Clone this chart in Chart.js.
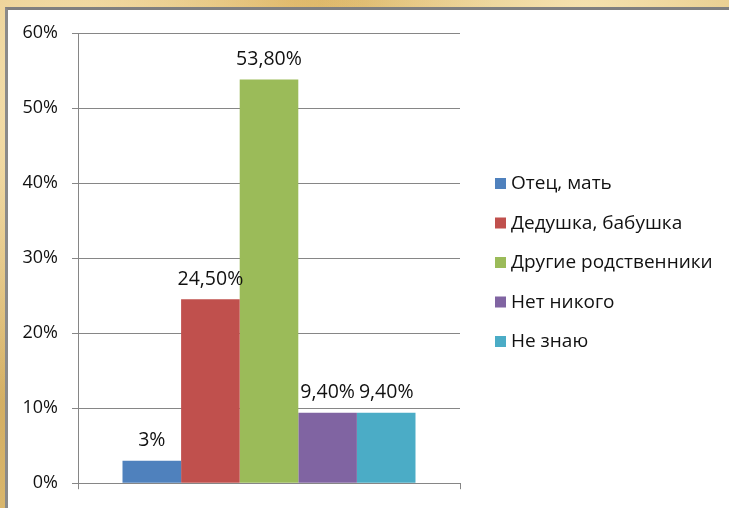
<!DOCTYPE html>
<html>
<head>
<meta charset="utf-8">
<script src="https://cdn.jsdelivr.net/npm/chart.js@4"></script>
<style>
  html, body { margin: 0; padding: 0; }
  body {
    width: 729px; height: 508px; overflow: hidden; position: relative;
    background-color: #e2c27c;
    background-image:
      radial-gradient(circle at 10% 20%, rgba(255,240,200,0.7) 0, rgba(255,240,200,0) 40%),
      radial-gradient(circle at 80% 5%, rgba(250,235,190,0.8) 0, rgba(250,235,190,0) 35%),
      radial-gradient(circle at 3% 80%, rgba(200,160,80,0.6) 0, rgba(200,160,80,0) 30%),
      radial-gradient(circle at 40% 0%, rgba(215,170,80,0.7) 0, rgba(215,170,80,0) 30%);
  }
  #panel {
    position: absolute; left: 5px; top: 7px; width: 740px; height: 520px;
    background: #fff; border-top: 3px solid #7f7f7f; border-left: 3px solid #8a8a8a;
  }
  #wrap { position: absolute; left: 0; top: 0; width: 729px; height: 508px; }
</style>
</head>
<body>
<div id="panel"></div>
<div id="wrap"><canvas id="myChart" width="729" height="508"></canvas></div>
<script>
var categories = ["Отец, мать", "Дедушка, бабушка", "Другие родственники", "Нет никого", "Не знаю"];
var values = [3, 24.5, 53.8, 9.4, 9.4];
var colors = ["#4f81bd", "#c0504d", "#9bbb59", "#8064a2", "#4bacc6"];
var yTicks = [0, 10, 20, 30, 40, 50, 60];

var fontFamily = "'Open Sans', sans-serif";

function fmt(v) {
	if (Number.isInteger(v)) return v + "%";
	return v.toFixed(2).replace(".", ",") + "%";
}

var datasets = categories.map(function (name, i) {
	return {
		label: name,
		data: [values[i]],
		backgroundColor: colors[i],
		borderWidth: 0
	};
});

// value labels above bars
var valueLabels = {
	id: "valueLabels",
	afterDatasetsDraw: function (chart) {
		var ctx = chart.ctx;
		ctx.save();
		ctx.font = "19.5px " + fontFamily;
		ctx.fillStyle = "#111";
		ctx.textAlign = "center";
		ctx.textBaseline = "middle";
		chart.data.datasets.forEach(function (ds, i) {
			var bar = chart.getDatasetMeta(i).data[0];
			ctx.fillText(fmt(ds.data[0]), bar.x, bar.y - 20);
		});
		ctx.restore();
	}
};

// legend at the right, like the office one
var sideLegend = {
	id: "sideLegend",
	afterDraw: function (chart) {
		var ctx = chart.ctx;
		var x = chart.chartArea.right + 35;
		var y = 183;
		ctx.save();
		ctx.font = "19px " + fontFamily;
		ctx.textBaseline = "middle";
		chart.data.datasets.forEach(function (ds, i) {
			ctx.fillStyle = ds.backgroundColor;
			ctx.fillRect(x, y + i * 39.5 - 5, 11, 11);
			ctx.fillStyle = "#111";
			ctx.fillText(ds.label, x + 16, y + i * 39.5 + 1);
		});
		ctx.restore();
	}
};

var ctx = document.getElementById("myChart").getContext("2d");

var myBarChart = new Chart(ctx, {
	type: "bar",
	data: {
		labels: [""],
		datasets: datasets
	},
	options: {
		responsive: false,
		animation: false,
		layout: { padding: { left: 20, right: 269, top: 33, bottom: 18 } },
		plugins: {
			legend: { display: false },
			tooltip: { enabled: false }
		},
		datasets: {
			bar: { categoryPercentage: 0.767, barPercentage: 1 }
		},
		scales: {
			x: {
				grid: { drawOnChartArea: false, drawTicks: true, tickLength: 6, color: "#868686" },
				border: { color: "#868686" },
				ticks: { display: false }
			},
			y: {
				min: 0,
				max: 60,
				afterBuildTicks: function (scale) {
					scale.ticks = yTicks.map(function (v) { return { value: v }; });
				},
				afterFit: function (scale) { scale.width = 58; },
				grid: { color: "#868686", tickLength: 6 },
				border: { color: "#868686" },
				ticks: {
					padding: 14,
					color: "#111",
					font: { family: fontFamily, size: 18 },
					callback: function (v) { return v + "%"; }
				}
			}
		}
	},
	plugins: [valueLabels, sideLegend]
});
</script>
</body>
</html>
